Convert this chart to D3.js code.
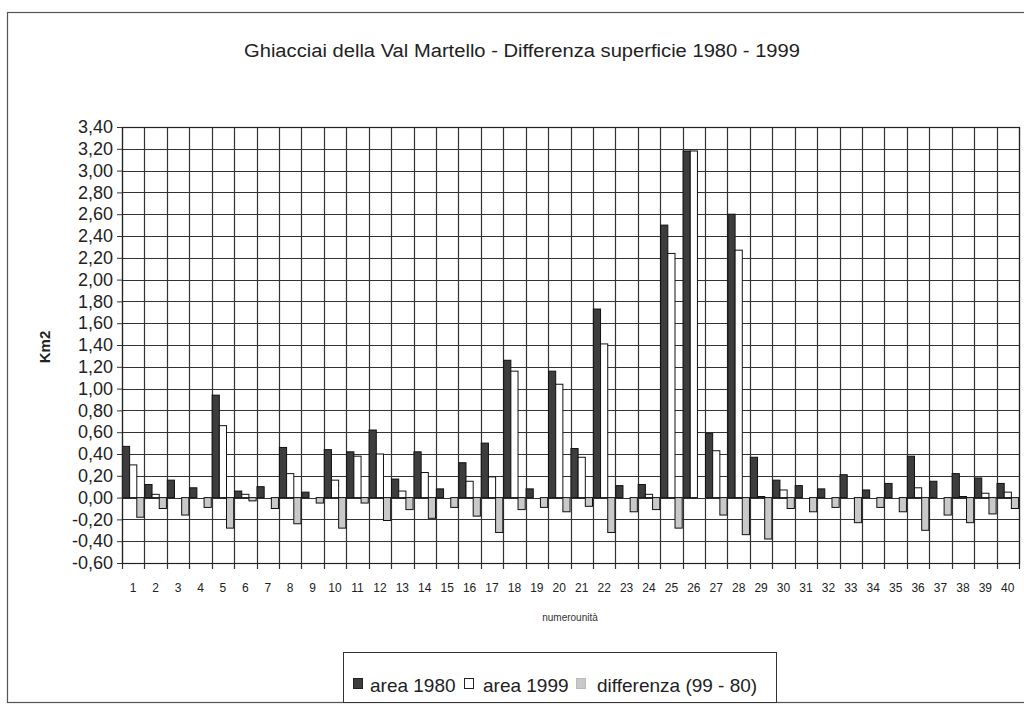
<!DOCTYPE html>
<html>
<head>
<meta charset="utf-8">
<script src="https://cdn.jsdelivr.net/npm/d3@7/dist/d3.min.js"></script>
<style>
  html, body { margin: 0; padding: 0; background: #ffffff; }
  svg { display: block; font-family: "Liberation Sans", Arial, sans-serif; }
</style>
</head>
<body>
<svg id="chart" width="1024" height="706"></svg>
<script>
// Glacier units of Val Martello, surface in km2
const units = d3.range(1, 41).map(String);
const area1980 = [0.47, 0.12, 0.16, 0.09, 0.94, 0.06, 0.10, 0.46, 0.05, 0.44,
                  0.42, 0.62, 0.17, 0.42, 0.08, 0.32, 0.50, 1.26, 0.08, 1.16,
                  0.45, 1.73, 0.11, 0.12, 2.50, 3.18, 0.59, 2.60, 0.37, 0.16,
                  0.11, 0.08, 0.21, 0.07, 0.13, 0.38, 0.15, 0.22, 0.18, 0.13];
const area1999 = [0.30, 0.03, 0.00, 0.00, 0.66, 0.03, 0.00, 0.22, 0.00, 0.16,
                  0.38, 0.40, 0.06, 0.23, 0.00, 0.15, 0.19, 1.16, 0.00, 1.04,
                  0.37, 1.41, 0.00, 0.03, 2.24, 3.18, 0.43, 2.27, 0.01, 0.07,
                  0.00, 0.00, 0.00, 0.00, 0.00, 0.09, 0.00, 0.01, 0.04, 0.05];
const differenza = [-0.18, -0.10, -0.16, -0.09, -0.28, -0.03, -0.10, -0.24, -0.05, -0.28,
                    -0.05, -0.21, -0.11, -0.19, -0.09, -0.17, -0.32, -0.11, -0.09, -0.13,
                    -0.08, -0.32, -0.13, -0.11, -0.28, 0.00, -0.16, -0.34, -0.38, -0.10,
                    -0.13, -0.09, -0.23, -0.09, -0.13, -0.30, -0.16, -0.23, -0.15, -0.10];
const seriesNames = ["area 1980", "area 1999", "differenza (99 - 80)"];
const seriesFill = ["#3d3d3d", "#ffffff", "#c9c9c9"];
const yTicks = d3.range(-0.6, 3.4001, 0.2).map(v => Math.round(v * 100) / 100);

const svg = d3.select("#chart");
const plot = { left: 122, right: 1019, top: 127, bottom: 563 };

const itFmt = d3.formatLocale({ decimal: ",", thousands: ".", grouping: [3], currency: ["", "€"], minus: "-" }).format(".2f");

// outer chart frame
svg.append("rect")
  .attr("x", 7.5).attr("y", 12.5)
  .attr("width", 1040).attr("height", 690)
  .attr("fill", "#ffffff").attr("stroke", "#555").attr("stroke-width", 1.2);

// title
svg.append("text")
  .attr("x", 522).attr("y", 57)
  .attr("text-anchor", "middle")
  .attr("font-size", 18)
  .attr("textLength", 556).attr("lengthAdjust", "spacingAndGlyphs")
  .attr("fill", "#222")
  .text("Ghiacciai della Val Martello - Differenza superficie 1980 - 1999");

const x0 = d3.scaleBand().domain(units).range([plot.left, plot.right]).padding(0);
const x1 = d3.scaleBand().domain(d3.range(3)).range([0, x0.bandwidth()]).paddingInner(0).paddingOuter(0.06);
const y = d3.scaleLinear().domain([-0.6, 3.4]).range([plot.bottom, plot.top]);

const g = svg.append("g");

// y axis labels with short outward ticks
const yAxis = d3.axisLeft(y).tickValues(yTicks).tickSize(5).tickPadding(4).tickFormat(itFmt);
g.append("g")
  .attr("transform", `translate(${plot.left},0)`)
  .call(yAxis)
  .call(s => s.select(".domain").remove())
  .call(s => s.selectAll(".tick line").attr("stroke", "#333"))
  .call(s => s.selectAll(".tick text")
    .attr("font-size", 18).attr("fill", "#222")
    .attr("font-family", "'Liberation Sans', Arial, sans-serif"));

// horizontal grid
g.append("g").selectAll("line")
  .data(yTicks)
  .join("line")
  .attr("x1", plot.left).attr("x2", plot.right)
  .attr("y1", d => Math.round(y(d)) + 0.5).attr("y2", d => Math.round(y(d)) + 0.5)
  .attr("stroke", "#333").attr("stroke-width", 1.2);

// vertical grid at category boundaries, with ticks below the plot
const bounds = units.map(u => x0(u)).concat([plot.right]);
g.append("g").selectAll("line")
  .data(bounds)
  .join("line")
  .attr("x1", d => Math.round(d) + 0.5).attr("x2", d => Math.round(d) + 0.5)
  .attr("y1", plot.top).attr("y2", plot.bottom + 6)
  .attr("stroke", "#333").attr("stroke-width", 1.2);

// x category labels
const xAxis = d3.axisBottom(x0).tickSize(0).tickPadding(20);
g.append("g")
  .attr("transform", `translate(0,${plot.bottom})`)
  .call(xAxis)
  .call(s => s.select(".domain").remove())
  .call(s => s.selectAll(".tick text")
    .attr("font-size", 12).attr("fill", "#222")
    .attr("font-family", "'Liberation Sans', Arial, sans-serif"));

// bars
const rows = units.map((u, i) => ({ u, vals: [area1980[i], area1999[i], differenza[i]] }));
const groups = g.append("g").selectAll("g")
  .data(rows)
  .join("g")
  .attr("transform", d => `translate(${x0(d.u)},0)`);

groups.selectAll("rect")
  .data(d => d.vals.map((v, k) => ({ v, k })))
  .join("rect")
  .attr("x", d => x1(d.k))
  .attr("width", x1.bandwidth())
  .attr("y", d => y(Math.max(0, d.v)))
  .attr("height", d => Math.abs(y(d.v) - y(0)))
  .attr("fill", d => seriesFill[d.k])
  .attr("stroke", "#111").attr("stroke-width", 1);

// plot frame
svg.append("rect")
  .attr("x", plot.left + 0.5).attr("y", plot.top + 0.5)
  .attr("width", plot.right - plot.left).attr("height", plot.bottom - plot.top)
  .attr("fill", "none").attr("stroke", "#222").attr("stroke-width", 1.2);

// axis titles
svg.append("text")
  .attr("transform", "translate(50,347) rotate(-90)")
  .attr("text-anchor", "middle")
  .attr("font-size", 15).attr("font-weight", "bold").attr("fill", "#222")
  .text("Km2");

svg.append("text")
  .attr("x", 570).attr("y", 621)
  .attr("text-anchor", "middle")
  .attr("font-size", 10).attr("fill", "#333")
  .text("numerounità");

// legend
const lg = svg.append("g");
lg.append("rect")
  .attr("x", 343.5).attr("y", 652.5).attr("width", 433).attr("height", 50)
  .attr("fill", "#ffffff").attr("stroke", "#333").attr("stroke-width", 1);
const legendX = [353, 464, 576];
const legendTextX = [370, 483, 597];
seriesNames.forEach((name, k) => {
  lg.append("rect")
    .attr("x", legendX[k] + 0.5).attr("y", 678.5).attr("width", 9).attr("height", 10)
    .attr("fill", seriesFill[k]).attr("stroke", k === 2 ? "#bbb" : "#222").attr("stroke-width", 1);
  lg.append("text")
    .attr("x", legendTextX[k]).attr("y", 692)
    .attr("font-size", 19).attr("fill", "#222")
    .text(name);
});
</script>
</body>
</html>
